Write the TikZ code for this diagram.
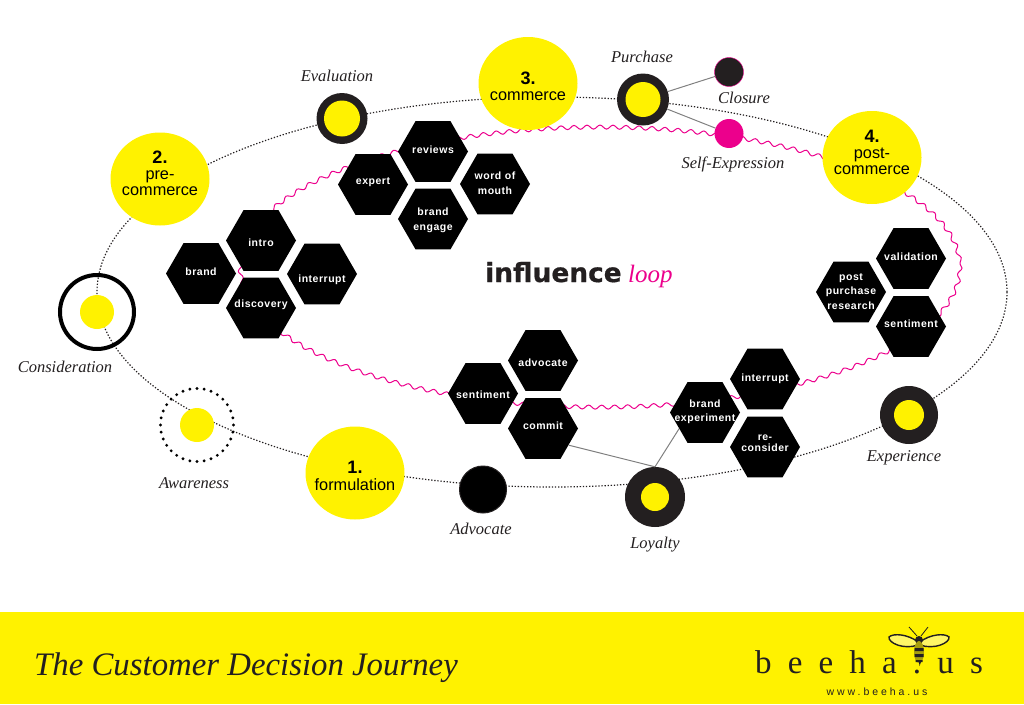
\documentclass[tikz,border=0pt]{standalone}
\usepackage{fontspec}
\setmainfont{Liberation Serif}
\newfontfamily\hexfont[LetterSpace=5]{Liberation Sans}
\newfontfamily\stagefont{Liberation Sans}
\newfontfamily\heavyfont[FakeBold=0.6]{DejaVu Sans}
\newfontfamily\logofont[LetterSpace=49]{Liberation Serif}
\newfontfamily\webfont[LetterSpace=28]{Liberation Sans}
\usetikzlibrary{shapes.geometric,decorations.pathmorphing}
\definecolor{beeyellow}{HTML}{FFF200}
\definecolor{beepink}{HTML}{EC008C}
\definecolor{ringdark}{HTML}{231F20}
\newcommand{\inlabel}[2][0pt]{\makebox[0pt]{\smash{\raisebox{\dimexpr#1-.25em-2pt}{\begin{tabular}{@{}c@{}}#2\end{tabular}}}}}
\newcommand{\stagenum}[1]{{\fontsize{18}{16}\selectfont\bfseries #1}}
\begin{document}
\begin{tikzpicture}[x=1pt,y=-1pt,
  journey/.style={line width=1.2pt,ringdark,dash pattern=on 1.3pt off 1.8pt},
  wave/.style={beepink,line width=1pt,decorate,decoration={snake,amplitude=2pt,segment length=13pt}},
  hexa/.style={regular polygon,regular polygon sides=6,minimum size=70pt,inner sep=0pt,fill=black,text=white,font=\hexfont\bfseries\fontsize{10.5}{14.5}\selectfont},
  stage/.style={ellipse,minimum width=99pt,minimum height=93pt,inner sep=0pt,fill=beeyellow,text=black,font=\stagefont\fontsize{16.3}{16}\selectfont},
  stop/.style={circle,minimum size=#1,inner sep=0pt,fill=ringdark},
  yolk/.style={circle,minimum size=#1,inner sep=0pt,fill=beeyellow},
  tag/.style={anchor=base,font=\itshape\fontsize{16.5}{18}\selectfont,text=ringdark},
  link/.style={gray,line width=1pt}]
\useasboundingbox (0,0) rectangle (1024,704);
\fill[beeyellow] (0,612) rectangle (1024,704);
\draw[journey] (552,292) ellipse (455 and 195);
\draw[wave] (600,264) ellipse (360 and 140);
\node[stop=51pt] (evaluation) at (342,118.5) {};
\node[yolk=36pt] (evaluationin) at (342,118.5) {};
\node[stop=52pt] (purchase) at (643,99.5) {};
\node[yolk=35pt] (purchasein) at (643,99.5) {};
\node[stop=29pt,draw=beepink,line width=0.4pt] (closure) at (729,72) {};
\node[stop=29pt,fill=beepink] (selfexp) at (729,133.5) {};
\node[stop=58pt] (experience) at (909,415) {};
\node[yolk=30pt] (experiencein) at (909,415) {};
\node[stop=60pt] (loyalty) at (655,497) {};
\node[yolk=28pt] (loyaltyin) at (655,497) {};
\node[stop=47pt,fill=black,draw=ringdark,line width=1pt] (advocatestop) at (483,489.5) {};
\node[circle,draw=black,line width=4pt,minimum size=74pt,inner sep=0pt] (consideration) at (97,312) {};
\node[yolk=34pt] (considerationin) at (97,312) {};
\node[circle,minimum size=73pt,inner sep=0pt] (awareness) at (197,425) {};
\foreach \a in {0,11.25,...,349} \fill[black] (awareness.center) ++(\a:36.5) circle (1.6);
\node[yolk=34pt] (awarenessin) at (197,425) {};
\node[hexa] (intro) at (261,240.5) {\inlabel[-1.5pt]{intro}};
\node[hexa] (brand) at (201,273.5) {\inlabel[2.5pt]{brand}};
\node[hexa] (interruptl) at (322,274) {\inlabel[-4pt]{interrupt}};
\node[hexa] (discovery) at (261,308) {\inlabel[5pt]{discovery}};
\node[hexa] (reviews) at (433,151.5) {\inlabel[2.5pt]{reviews}};
\node[hexa] (expert) at (373,184.5) {\inlabel[4.5pt]{expert}};
\node[hexa] (wordofmouth) at (495,184) {\inlabel[2pt]{word of\\mouth}};
\node[hexa] (brandengage) at (433,219) {\inlabel[1pt]{brand\\engage}};
\node[hexa] (advocatehex) at (543,360.5) {\inlabel[-1.5pt]{advocate}};
\node[hexa] (sentimentl) at (483,393.5) {\inlabel{sentiment}};
\node[hexa] (commit) at (543,428.5) {\inlabel[3.5pt]{commit}};
\node[hexa] (brandexp) at (705,412.5) {\inlabel[3pt]{brand\\experiment}};
\node[hexa] (interruptr) at (765,379) {\inlabel[2pt]{interrupt}};
\node[hexa] (reconsider) at (765,447) {\inlabel[6pt]{re-\\[-4pt]consider}};
\node[hexa] (validation) at (911,258.5) {\inlabel[2.5pt]{validation}};
\node[hexa] (postpurchase) at (851,292) {\inlabel[2pt]{post\\purchase\\research}};
\node[hexa] (sentimentr) at (911,326.5) {\inlabel[3.5pt]{sentiment}};
\draw[link] (purchase) -- (closure);
\draw[link] (purchase) -- (selfexp);
\draw[link] (commit.-33) -- (loyalty.north);
\draw[link] (brandexp.212) -- (loyalty.north);
\node[stage] (formulation) at (355,473) {\inlabel[-3.5pt]{\stagenum{1.}\\formulation}};
\node[stage] (precommerce) at (160,179) {\inlabel[5.5pt]{\stagenum{2.}\\pre-\\commerce}};
\node[stage] (commerce) at (528,83.5) {\inlabel[-3.5pt]{\stagenum{3.}\\commerce}};
\node[stage] (postcommerce) at (872,157.5) {\inlabel[5pt]{\stagenum{4.}\\post-\\commerce}};
\node[tag] (tagevaluation) at (337,81.5) {Evaluation};
\node[tag] (tagpurchase) at (642,62) {Purchase};
\node[tag] (tagclosure) at (744,103) {Closure};
\node[tag] (tagselfexp) at (733,168) {Self-Expression};
\node[tag] (tagexperience) at (904,461) {Experience};
\node[tag] (tagloyalty) at (655,548) {Loyalty};
\node[tag] (tagadvocate) at (481,534) {Advocate};
\node[tag] (tagconsideration) at (65,372.5) {Consideration};
\node[tag] (tagawareness) at (194,488) {Awareness};
\node[anchor=base west,inner sep=0pt,font=\heavyfont\bfseries\fontsize{26.4}{28}\selectfont,text=ringdark] (influence) at (485,282) {inf{}luence};
\node[anchor=base west,inner sep=0pt,font=\itshape\fontsize{25}{28}\selectfont,text=beepink] (loop) at (628,282) {loop};
\node[anchor=base west,inner sep=0pt,font=\itshape\fontsize{32.8}{34}\selectfont,text=ringdark] (title) at (34,675) {The Customer Decision Journey};
\node[anchor=base,inner sep=0pt,font=\logofont\fontsize{33}{35}\selectfont,text=ringdark] (logo) at (869,673) {beeha.us};
\node[anchor=base,inner sep=0pt,font=\webfont\fontsize{10.5}{12}\selectfont,text=ringdark] (web) at (877,695) {www.beeha.us};
\draw[ringdark,line width=0.8pt] (917,636) -- (909,627) (921,636) -- (928,627);
\draw[ringdark,line width=1.4pt,fill=beeyellow!60!white] (918,642) .. controls (908,634) and (893,633) .. (889,637) .. controls (888,643) and (904,650) .. (918,645) -- cycle;
\draw[ringdark,line width=1.4pt,fill=beeyellow!60!white] (920,642) .. controls (930,634) and (945,633) .. (949,637) .. controls (950,643) and (934,650) .. (920,645) -- cycle;
\fill[ringdark] (919,640) circle (4);
\fill[beeyellow!60!ringdark] (919,652) ellipse (5 and 11);
\fill[ringdark] (914.5,648) rectangle (923.5,651) (914.5,654) rectangle (923.5,657) (915.5,660) rectangle (922.5,662);
\fill[ringdark] (919,662) -- (921,662) -- (919.5,666) -- cycle;
\end{tikzpicture}
\end{document}
